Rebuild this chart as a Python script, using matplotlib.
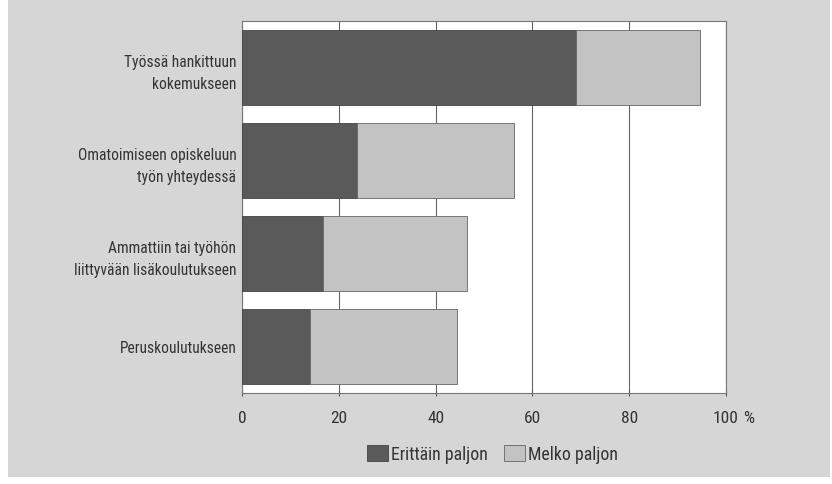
import os
import matplotlib
matplotlib.use("Agg")
import matplotlib.pyplot as plt
from matplotlib import font_manager
from matplotlib.font_manager import FontProperties

categories = ["Työssä hankittuun\nkokemukseen",
              "Omatoimiseen opiskeluun\ntyön yhteydessä",
              "Ammattiin tai työhön\nliittyvään lisäkoulutukseen",
              "Peruskoulutukseen"]
erittain = [69.0, 23.8, 16.8, 14.0]
melko = [25.6, 32.3, 29.7, 30.4]
series_names = ["Erittäin paljon", "Melko paljon"]
xticks = [0, 20, 40, 60, 80, 100]

# pick a condensed font file if available
files = [f.fname for f in font_manager.fontManager.ttflist]
pref = ["LiberationSansNarrow-Regular", "RobotoCondensed-Regular", "Roboto_Condensed-Regular",
        "OpenSans_Condensed-Regular", "OpenSansCondensed", "DejaVuSansCondensed.ttf",
        "NotoSans-Condensed", "NotoSansCondensed"]
chosen = None
for p in pref:
    for fn in files:
        b = os.path.basename(fn)
        if p.lower() in b.lower() and "bold" not in b.lower() and "oblique" not in b.lower() and "italic" not in b.lower():
            chosen = fn
            break
    if chosen:
        break

def fp(size):
    if chosen:
        return FontProperties(fname=chosen, size=size)
    return FontProperties(family="DejaVu Sans", size=size)

txt = "#333333"
fig = plt.figure(figsize=(8.32, 4.85), dpi=100)
bg = fig.add_axes([8/832, 7/485, 822/832, 478/485], zorder=-10)
bg.set_facecolor("#d6d6d6")
bg.set_xticks([]); bg.set_yticks([])
for s in bg.spines.values():
    s.set_visible(False)

ax = fig.add_axes([242/832, 1-394/485, 484/832, 372/485], zorder=1)
ax.set_facecolor("white")

y = list(range(len(categories)))
ax.barh(y, erittain, height=0.8, color="#5a5a5a", edgecolor="#444444", linewidth=0.6,
        label=series_names[0], zorder=3)
ax.barh(y, melko, left=erittain, height=0.8, color="#c3c3c3", edgecolor="#666666",
        linewidth=0.6, label=series_names[1], zorder=3)

ax.set_xlim(0, 100)
ax.set_ylim(len(categories)-0.5, -0.5)
ax.set_yticks(y)
ax.set_yticklabels(categories, fontproperties=fp(11.2), color=txt, linespacing=1.6)
ax.set_xticks(xticks)
ax.set_xticklabels([str(v) for v in xticks], fontproperties=fp(12.5), color=txt)
ax.tick_params(axis="y", length=0, pad=4)
ax.tick_params(axis="x", length=5, direction="inout", color="#555555", pad=10)
ax.grid(axis="x", color="#666666", linewidth=0.8, zorder=1)
for s in ax.spines.values():
    s.set_color("#777777")
    s.set_linewidth(0.8)
ax.annotate("%", xy=(100, 0), xycoords=("data", "axes fraction"), xytext=(16, -18),
            textcoords="offset points", ha="center", va="center", fontproperties=fp(12.5), color=txt)

leg = ax.legend(loc="upper center", bbox_to_anchor=(0.517, -0.12), ncol=2, frameon=False,
                prop=fp(12.8), handlelength=1.2, handleheight=1.0, handletextpad=0.15,
                columnspacing=0.9, borderaxespad=0)
for t in leg.get_texts():
    t.set_color(txt)

fig.savefig("out.png", dpi=100)
